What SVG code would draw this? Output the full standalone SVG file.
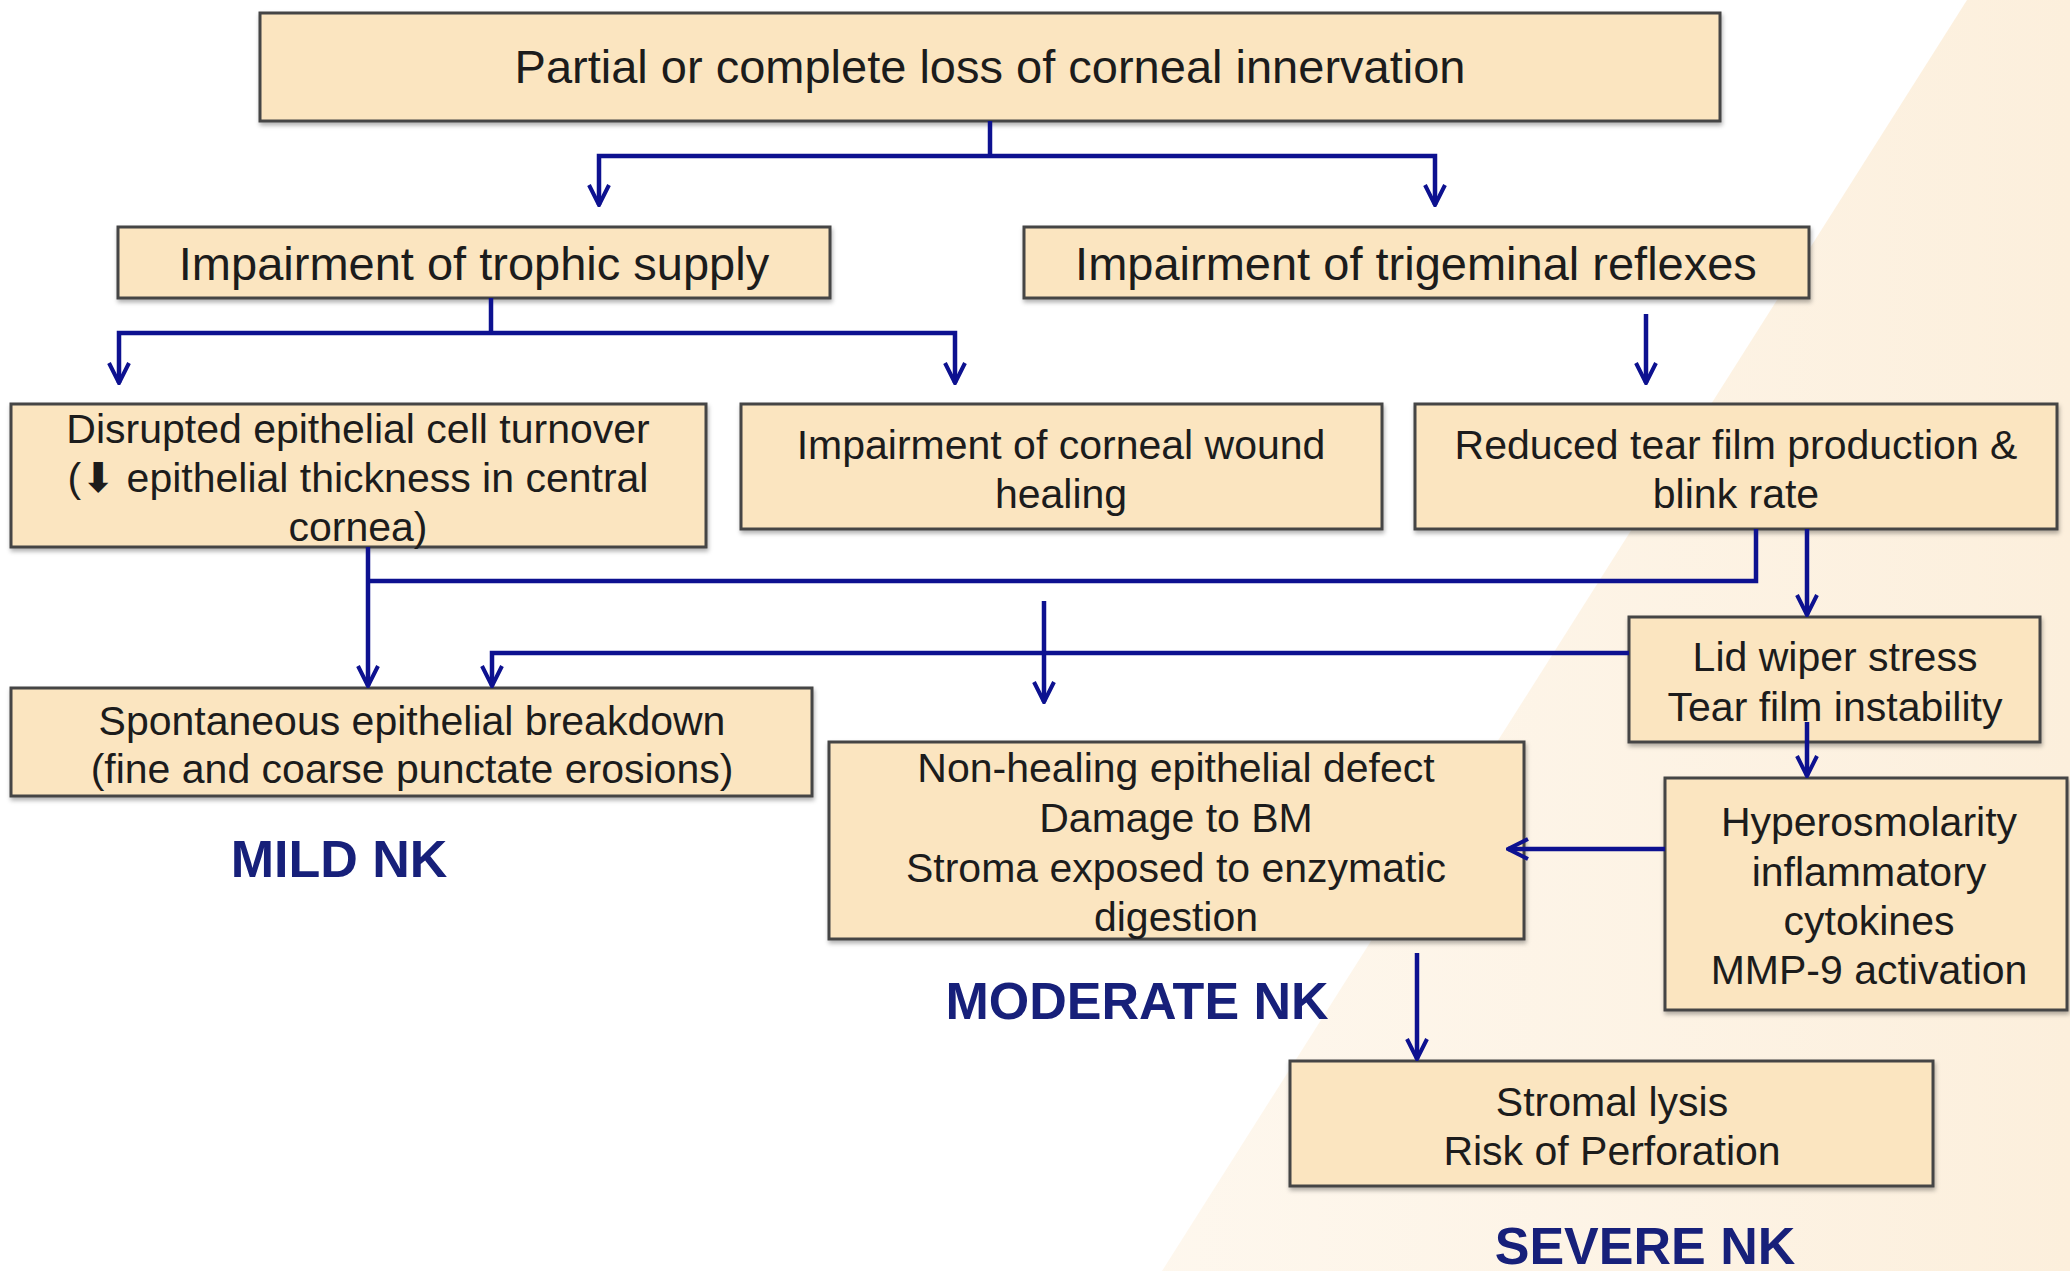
<svg xmlns="http://www.w3.org/2000/svg" width="2070" height="1271" viewBox="0 0 2070 1271">
<defs>
<style>
.box{fill:#fbe5c0;stroke:#454545;stroke-width:3;filter:url(#sh)}
.t{font-family:"Liberation Sans",Arial,sans-serif;fill:#1c1c1c;text-anchor:middle}
.big{font-size:47px}
.mid{font-size:41px}
.lbl{font-family:"Liberation Sans",Arial,sans-serif;font-weight:bold;font-size:52px;fill:#17207a;text-anchor:middle}
.c{fill:none;stroke:#0d1190;stroke-width:4.5;stroke-linejoin:miter}
.a{marker-end:url(#ah)}
</style>
<filter id="sh" x="-5%" y="-5%" width="110%" height="120%">
<feDropShadow dx="1" dy="3" stdDeviation="2" flood-color="#000000" flood-opacity="0.3"/>
</filter>
<marker id="ah" viewBox="0 0 24 24" refX="22" refY="12" markerWidth="24" markerHeight="24" markerUnits="userSpaceOnUse" orient="auto">
<path d="M2,2 L22,12 L2,22" fill="none" stroke="#0d1190" stroke-width="4"/>
</marker>
<linearGradient id="bg" x1="0" y1="0" x2="1" y2="0">
<stop offset="0" stop-color="#fdf2e2" stop-opacity="0.6"/>
<stop offset="1" stop-color="#fcefdc" stop-opacity="1"/>
</linearGradient>
</defs>
<rect width="2070" height="1271" fill="#ffffff"/>
<polygon points="1967,0 2070,0 2070,1271 1162,1271" fill="url(#bg)"/>

<g id="n-top">
<rect class="box" x="260" y="13" width="1460" height="108"/>
<text class="t big" x="990" y="83">Partial or complete loss of corneal innervation</text>
</g>
<g id="n-trophic">
<rect class="box" x="118" y="227" width="712" height="71"/>
<text class="t big" x="474" y="280">Impairment of trophic supply</text>
</g>
<g id="n-trigeminal">
<rect class="box" x="1024" y="227" width="785" height="71"/>
<text class="t big" x="1416" y="280">Impairment of trigeminal reflexes</text>
</g>
<g id="n-turnover">
<rect class="box" x="11" y="404" width="695" height="143"/>
<text class="t mid" x="358" y="443">Disrupted epithelial cell turnover</text>
<text class="t mid" x="358" y="492">(⬇ epithelial thickness in central</text>
<text class="t mid" x="358" y="541">cornea)</text>
</g>
<g id="n-wound">
<rect class="box" x="741" y="404" width="641" height="125"/>
<text class="t mid" x="1061" y="459">Impairment of corneal wound</text>
<text class="t mid" x="1061" y="508">healing</text>
</g>
<g id="n-tear">
<rect class="box" x="1415" y="404" width="642" height="125"/>
<text class="t mid" x="1736" y="459">Reduced tear film production &amp;</text>
<text class="t mid" x="1736" y="508">blink rate</text>
</g>
<g id="n-lid">
<rect class="box" x="1629" y="617" width="411" height="125"/>
<text class="t mid" x="1835" y="671">Lid wiper stress</text>
<text class="t mid" x="1835" y="721">Tear film instability</text>
</g>
<g id="n-spont">
<rect class="box" x="11" y="688" width="801" height="108"/>
<text class="t mid" x="412" y="735">Spontaneous epithelial breakdown</text>
<text class="t mid" x="412" y="783">(fine and coarse punctate erosions)</text>
</g>
<g id="n-nonhealing">
<rect class="box" x="829" y="742" width="695" height="197"/>
<text class="t mid" x="1176" y="782">Non-healing epithelial defect</text>
<text class="t mid" x="1176" y="832">Damage to BM</text>
<text class="t mid" x="1176" y="882">Stroma exposed to enzymatic</text>
<text class="t mid" x="1176" y="931">digestion</text>
</g>
<g id="n-hyper">
<rect class="box" x="1665" y="778" width="402" height="232"/>
<text class="t mid" x="1869" y="836">Hyperosmolarity</text>
<text class="t mid" x="1869" y="886">inflammatory</text>
<text class="t mid" x="1869" y="935">cytokines</text>
<text class="t mid" x="1869" y="984">MMP-9 activation</text>
</g>
<g id="n-stromal">
<rect class="box" x="1290" y="1061" width="643" height="125"/>
<text class="t mid" x="1612" y="1116">Stromal lysis</text>
<text class="t mid" x="1612" y="1165">Risk of Perforation</text>
</g>

<g id="connectors">
<path class="c" d="M990,121 V156"/>
<path class="c a" d="M990,156 H599 V205"/>
<path class="c a" d="M990,156 H1435 V205"/>
<path class="c" d="M491,298 V333"/>
<path class="c a" d="M491,333 H119 V383"/>
<path class="c a" d="M491,333 H955 V383"/>
<path class="c a" d="M1646,314 V383"/>
<path class="c a" d="M368,547 V686"/>
<path class="c" d="M1756,529 V581 H368"/>
<path class="c a" d="M1044,601 V702"/>
<path class="c a" d="M1629,653 H492 V686"/>
<path class="c a" d="M1807,529 V615"/>
<path class="c a" d="M1807,722 V776"/>
<path class="c a" d="M1665,849 H1508"/>
<path class="c a" d="M1417,953 V1059"/>
</g>

<g id="labels">
<text class="lbl" x="339" y="877">MILD NK</text>
<text class="lbl" x="1137" y="1019">MODERATE NK</text>
<text class="lbl" x="1645" y="1264">SEVERE NK</text>
</g>
</svg>
